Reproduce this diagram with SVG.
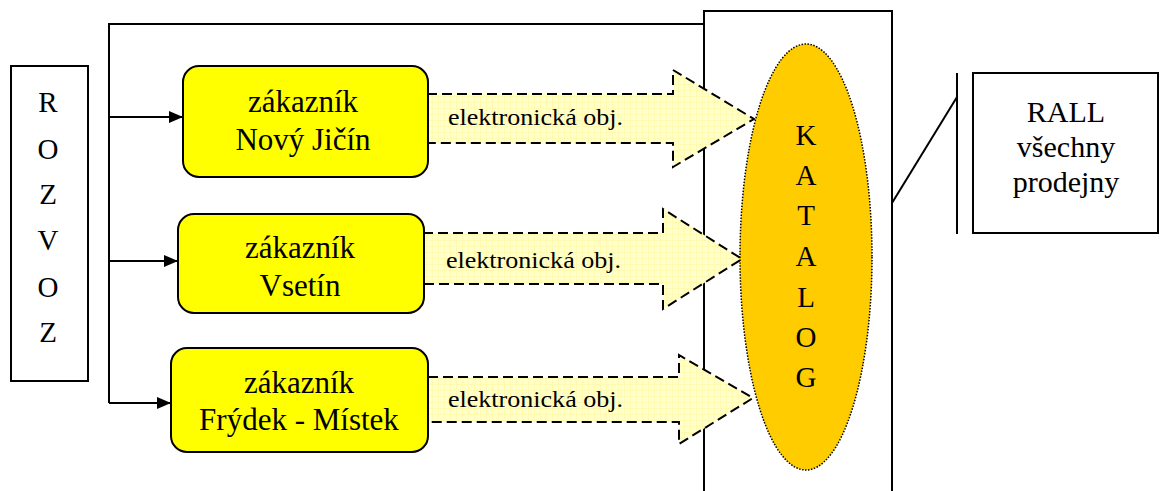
<svg xmlns="http://www.w3.org/2000/svg" width="1161" height="491" viewBox="0 0 1161 491" font-family="'Liberation Serif','Times New Roman',serif">
<defs>
<style>
.t{font-family:"Liberation Serif","Times New Roman",serif;fill:#000}
.big{font-size:31px;text-anchor:middle}
.let{font-size:29px;text-anchor:middle}
.rl{font-size:30px;text-anchor:middle}
.lbl{font-size:24px}
.line{stroke:#000;stroke-width:2;fill:none}
.cust{fill:#FFFF00;stroke:#000;stroke-width:2}
.arr{fill:url(#grid);stroke:#000;stroke-width:2;stroke-dasharray:10 5}
</style>
<pattern id="grid" width="6" height="6" patternUnits="userSpaceOnUse">
<rect width="6" height="6" fill="#FFFFCC"/>
<path d="M0 0.5H6M0.5 0V6" stroke="#FFFAB0" stroke-width="1"/>
</pattern>
<marker id="ah" markerWidth="14" markerHeight="12" refX="14" refY="6" orient="auto" markerUnits="userSpaceOnUse">
<path d="M0 0L14 6L0 12Z" fill="#000"/>
</marker>
</defs>
<rect width="1161" height="491" fill="#fff"/>

<g id="katalog-frame">
<rect x="704" y="11" width="188" height="490" fill="none" stroke="#000" stroke-width="2"/>
</g>

<g id="connectors">
<path class="line" d="M704 24H109V403"/>
<path class="line" d="M109 117H183" marker-end="url(#ah)"/>
<path class="line" d="M109 261H178" marker-end="url(#ah)"/>
<path class="line" d="M109 403H171" marker-end="url(#ah)"/>
<path class="line" d="M892 203L957 97"/>
<path class="line" d="M957 73V234"/>
</g>

<g id="arrow1">
<path class="arr" d="M427 94H673V70L754 119L673 167V143H427"/>
<text class="t lbl" x="448" y="125" textLength="175" lengthAdjust="spacingAndGlyphs">elektronická obj.</text>
</g>
<g id="arrow2">
<path class="arr" d="M423 233H663V209L742 259L663 309V284H423"/>
<text class="t lbl" x="446" y="268" textLength="175" lengthAdjust="spacingAndGlyphs">elektronická obj.</text>
</g>
<g id="arrow3">
<path class="arr" d="M428 377H679V355L753 398L679 444V422H428"/>
<text class="t lbl" x="448" y="407" textLength="175" lengthAdjust="spacingAndGlyphs">elektronická obj.</text>
</g>

<g id="rozvoz">
<rect x="11" y="66" width="77" height="315" fill="#fff" stroke="#000" stroke-width="2"/>
<text class="t let" x="48" y="112">R</text>
<text class="t let" x="48" y="159">O</text>
<text class="t let" x="48" y="204">Z</text>
<text class="t let" x="48" y="250">V</text>
<text class="t let" x="48" y="297">O</text>
<text class="t let" x="48" y="342">Z</text>
</g>

<g id="zakaznik-novy-jicin">
<rect class="cust" x="183" y="66" width="245" height="111" rx="16"/>
<text class="t big" x="303" y="112">zákazník</text>
<text class="t big" x="303" y="150">Nový Jičín</text>
</g>
<g id="zakaznik-vsetin">
<rect class="cust" x="178" y="214" width="246" height="99" rx="16"/>
<text class="t big" x="300" y="258">zákazník</text>
<text class="t big" x="300" y="296">Vsetín</text>
</g>
<g id="zakaznik-frydek-mistek">
<rect class="cust" x="171" y="348" width="257" height="104" rx="16"/>
<text class="t big" x="299" y="393">zákazník</text>
<text class="t big" x="299" y="430">Frýdek - Místek</text>
</g>

<g id="katalog">
<ellipse cx="806" cy="257" rx="66" ry="213" fill="#FFCC00" stroke="#000" stroke-width="1.5" stroke-dasharray="1.5 1.5"/>
<text class="t let" x="806" y="145">K</text>
<text class="t let" x="806" y="185">A</text>
<text class="t let" x="806" y="225">T</text>
<text class="t let" x="806" y="266">A</text>
<text class="t let" x="806" y="307">L</text>
<text class="t let" x="806" y="347">O</text>
<text class="t let" x="806" y="387">G</text>
</g>

<g id="rall">
<rect x="973" y="73" width="185" height="160" fill="#fff" stroke="#000" stroke-width="2"/>
<text class="t rl" x="1066" y="122">RALL</text>
<text class="t rl" x="1066" y="157">všechny</text>
<text class="t rl" x="1066" y="192">prodejny</text>
</g>
</svg>
